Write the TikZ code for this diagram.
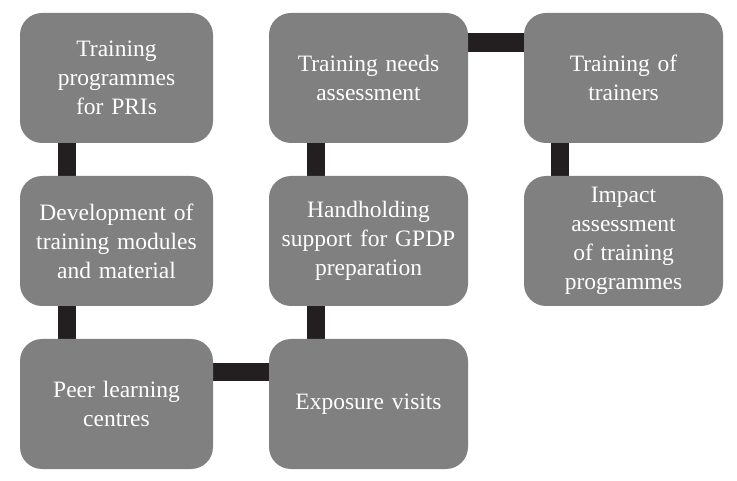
\documentclass[tikz,border=0pt]{standalone}
\usepackage{fontspec}
\setmainfont{Liberation Serif}
\usetikzlibrary{backgrounds}
\definecolor{boxgray}{HTML}{808081}
\definecolor{bardark}{HTML}{231F20}
\tikzset{
  box/.style={fill=boxgray, draw=none, rounded corners=22pt, minimum height=130pt,
    text=white, align=center, inner sep=0pt,
    font=\fontsize{23.5}{29}\selectfont},
  narrowbox/.style={box, minimum width=193pt, text width=185pt},
  widebox/.style={box, minimum width=199pt, text width=191pt},
  bar/.style={draw=bardark, line width=18.5pt}
}
\begin{document}
\begin{tikzpicture}[x=1pt,y=1pt]
\useasboundingbox (0,0) rectangle (737,480);
\node[narrowbox] (tp) at (116.5,402) {Training\\programmes\\for PRIs};
\node[widebox] (tna) at (368.5,402) {Training needs\\assessment};
\node[widebox] (tot) at (623.5,402) {Training of\\trainers};
\node[narrowbox] (dev) at (116.5,239) {Development of\\training modules\\and material};
\node[widebox] (hs) at (368.5,239) {Handholding\\support for GPDP\\preparation};
\node[widebox] (ia) at (623.5,239) {Impact\\assessment\\of training\\programmes};
\node[narrowbox] (plc) at (116.5,76) {Peer learning\\centres};
\node[widebox] (ev) at (368.5,76) {Exposure visits};
\begin{scope}[on background layer]
\draw[bar] ([xshift=47pt]tp.south west) -- ([xshift=47pt]dev.north west);
\draw[bar] ([xshift=47pt]dev.south west) -- ([xshift=47pt]plc.north west);
\draw[bar] ([xshift=47pt]tna.south west) -- ([xshift=47pt]hs.north west);
\draw[bar] ([xshift=47pt]hs.south west) -- ([xshift=47pt]ev.north west);
\draw[bar] ([xshift=36pt]tot.south west) -- ([xshift=36pt]ia.north west);
\draw[bar] ([yshift=-29.5pt]tna.north east) -- ([yshift=-29.5pt]tot.north west);
\draw[bar] ([yshift=-33pt]plc.north east) -- ([yshift=-33pt]ev.north west);
\end{scope}
\end{tikzpicture}
\end{document}
